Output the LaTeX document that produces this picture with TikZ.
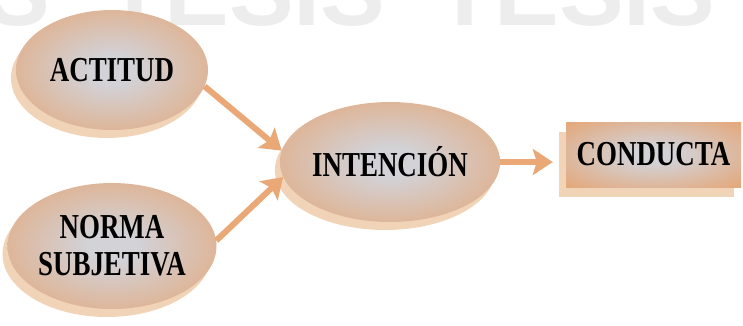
\documentclass[tikz,border=0pt]{standalone}
\usepackage{fontspec}
\setmainfont{Liberation Serif}[FakeStretch=0.77]
\newfontfamily\marcafont{Liberation Sans}
\usetikzlibrary{shapes.geometric,shadows,arrows.meta}

\definecolor{durazno}{RGB}{231,160,106}
\definecolor{grisclaro}{RGB}{210,210,215}
\definecolor{sombra}{RGB}{241,212,184}
\definecolor{flecha}{RGB}{234,168,118}
\definecolor{marca}{RGB}{237,237,237}
\pgfdeclareradialshading{bola}{\pgfpoint{0bp}{0bp}}{color(0bp)=(grisclaro); color(6bp)=(grisclaro); color(40bp)=(durazno); color(50bp)=(durazno)}

\tikzset{
  concepto/.style={shade, shading=bola, inner sep=0pt, align=center,
    font=\bfseries\fontsize{35}{37}\selectfont},
  ovalo/.style={concepto, ellipse,
    drop shadow={shadow xshift=-5pt, shadow yshift=-8pt, fill=sombra, opacity=1}},
  caja/.style={concepto, rectangle,
    drop shadow={shadow xshift=-7pt, shadow yshift=-10pt, fill=sombra, opacity=1}},
  flechita/.style={draw=flecha, line width=6pt,
    -{Stealth[length=20pt,width=26pt,inset=4pt]}}
}

\begin{document}
\begin{tikzpicture}[x=1pt,y=-1pt]
\useasboundingbox (0,0) rectangle (743,325);
 \begin{scope}[every node/.style={text=marca, inner sep=0pt,
     font=\marcafont\bfseries\fontsize{97}{97}\selectfont}]
  \clip (0,0) rectangle (743,325);
  \node[anchor=base east] (marca1) at (50,25) {S};
  \node[anchor=base west] (marca2) at (105,25) {TESIS};
  \node[anchor=base west] (marca3) at (435,25) {TESIS};
 \end{scope}
 \begin{scope}[every node/.style={ovalo}]
  \node[minimum width=192pt, minimum height=120pt] (actitud) at (112,70) {ACTITUD};
  \node[minimum width=200pt, minimum height=126pt] (norma) at (112,246) {NORMA\\SUBJETIVA};
  \node[minimum width=194pt, minimum height=120pt] (intencion) at (390,162) {INTENCIÓN};
 \end{scope}
  \node[caja, minimum width=175pt, minimum height=65pt] (conducta) at (653.5,154.5) {CONDUCTA};
  \path (actitud.-10) edge [flechita] node {} (intencion.174);
  \path (norma.3) edge [flechita] node {} (intencion.188);
  \path (intencion.east) edge [flechita, shorten >=13pt] node {} (intencion.east -| conducta.west);
\end{tikzpicture}
\end{document}
